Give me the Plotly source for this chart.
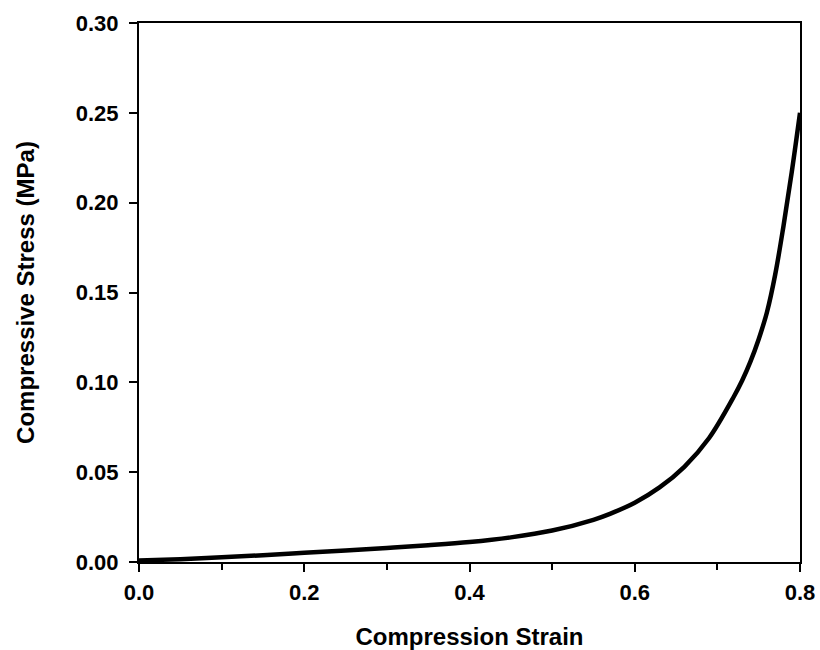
import plotly.graph_objects as go

strain = [0.0, 0.05, 0.10, 0.15, 0.20, 0.25, 0.30, 0.35, 0.40, 0.45, 0.50, 0.55, 0.57,
          0.60, 0.63, 0.66, 0.69, 0.72, 0.73, 0.74, 0.75, 0.76, 0.77, 0.78, 0.79, 0.80]
stress = [0.0008, 0.0016, 0.0026, 0.0038, 0.0051, 0.0064, 0.0078, 0.0093, 0.0111,
          0.0137, 0.0175, 0.0235, 0.0268, 0.0330, 0.0415, 0.0530, 0.0690, 0.0921,
          0.1010, 0.1115, 0.1240, 0.1390, 0.1600, 0.1870, 0.2170, 0.2500]

x_ticks = [0.0, 0.2, 0.4, 0.6, 0.8]
x_tick_labels = ["0.0", "0.2", "0.4", "0.6", "0.8"]
x_minor_ticks = [0.1, 0.3, 0.5, 0.7]
y_ticks = [0.00, 0.05, 0.10, 0.15, 0.20, 0.25, 0.30]
y_tick_labels = ["0.00", "0.05", "0.10", "0.15", "0.20", "0.25", "0.30"]

font_family = "Liberation Sans, Arial, sans-serif"

fig = go.Figure()
fig.add_trace(go.Scatter(
    x=strain, y=stress, mode="lines",
    line=dict(color="black", width=4.5, shape="spline", smoothing=1.0),
    showlegend=False,
))

fig.update_layout(
    width=820, height=650,
    margin=dict(l=139, r=20, t=23, b=88),
    paper_bgcolor="white", plot_bgcolor="white",
    font=dict(family=font_family, color="black"),
)

fig.update_xaxes(
    range=[0, 0.8], tickvals=x_ticks, ticktext=x_tick_labels,
    showgrid=False, zeroline=False,
    showline=True, linecolor="black", linewidth=2, mirror=True,
    ticks="outside", ticklen=8, tickwidth=2, tickcolor="black",
    minor=dict(tickvals=x_minor_ticks, ticks="outside", ticklen=6,
               tickwidth=2, tickcolor="black"),
    tickfont=dict(size=22, family=font_family, weight="bold"),
    ticklabelstandoff=2,
    title=dict(text="Compression Strain", standoff=26,
               font=dict(size=24, family=font_family, weight="bold")),
    automargin=False,
)
fig.update_yaxes(
    range=[0, 0.30], tickvals=y_ticks, ticktext=y_tick_labels,
    showgrid=False, zeroline=False,
    showline=True, linecolor="black", linewidth=2, mirror=True,
    ticks="outside", ticklen=8, tickwidth=2, tickcolor="black",
    tickfont=dict(size=22, family=font_family, weight="bold"),
    ticklabelstandoff=6,
    title=dict(text="Compressive Stress (MPa)", standoff=34,
               font=dict(size=24, family=font_family, weight="bold")),
    automargin=False,
)

fig.write_html("out.html")
